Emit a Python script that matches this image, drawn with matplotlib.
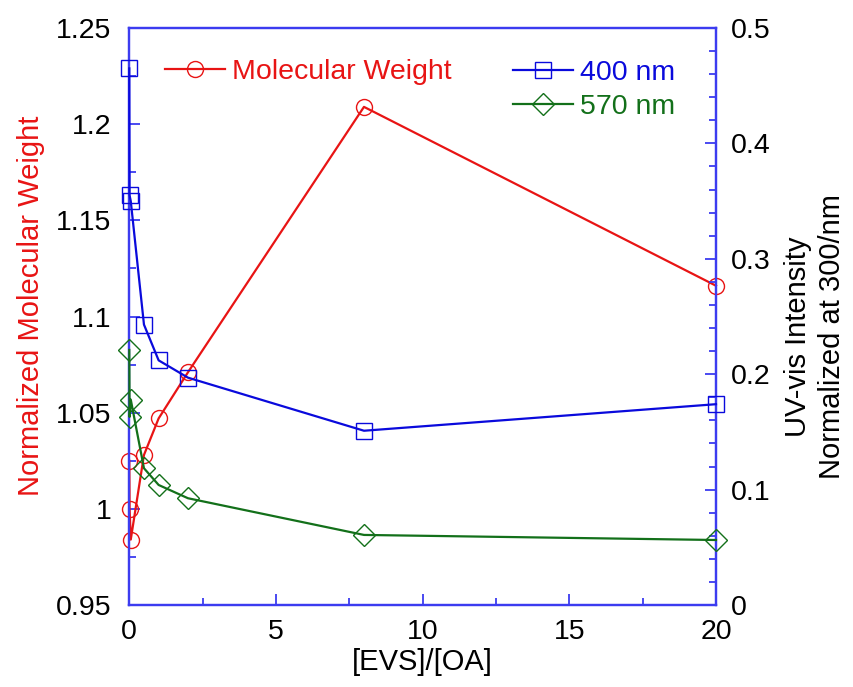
import matplotlib
matplotlib.use('Agg')
import matplotlib.pyplot as plt
from matplotlib.ticker import MultipleLocator
from matplotlib.lines import Line2D

plt.rcParams['font.family'] = ['Liberation Sans', 'DejaVu Sans']

# [EVS]/[OA] ratio and measured values
evs_ratio = [0, 0.01, 0.05, 0.5, 1, 2, 8, 20]
mol_weight = [1.025, 1.0, 0.984, 1.028, 1.047, 1.071, 1.209, 1.116]
abs_400 = [0.465, 0.355, 0.350, 0.243, 0.212, 0.197, 0.151, 0.174]
abs_570 = [0.221, 0.163, 0.178, 0.1185, 0.104, 0.0925, 0.0607, 0.0563]

left_ticks = [0.95, 1.0, 1.05, 1.1, 1.15, 1.2, 1.25]
left_labels = ['0.95', '1', '1.05', '1.1', '1.15', '1.2', '1.25']
right_ticks = [0, 0.1, 0.2, 0.3, 0.4, 0.5]
right_labels = ['0', '0.1', '0.2', '0.3', '0.4', '0.5']

RED = '#e81414'
BLUE = '#0a0adc'
GREEN = '#13701a'
FRAME = '#3c3cf0'
FS = 20.5
LFS = 21

fig = plt.figure(figsize=(8.54, 6.87), dpi=100)
ax1 = fig.add_axes([0.1514, 0.1194, 0.687, 0.8398])
ax2 = ax1.twinx()

ax1.plot(evs_ratio, mol_weight, color=RED, lw=1.6, marker='o', ms=11.5,
         mfc='none', mec=RED, mew=1.0, clip_on=False, zorder=3)
ax2.plot(evs_ratio, abs_400, color=BLUE, lw=1.6, marker='s', ms=12,
         mfc='none', mec=BLUE, mew=1.0, clip_on=False, zorder=3)
ax2.plot(evs_ratio, abs_570, color=GREEN, lw=1.6, marker='D', ms=11.5,
         mfc='none', mec=GREEN, mew=1.0, clip_on=False, zorder=3)

ax1.set_xlim(0, 20)
ax1.xaxis.set_major_locator(MultipleLocator(5))
ax1.xaxis.set_minor_locator(MultipleLocator(2.5))
ax1.set_yticks(left_ticks, left_labels)
ax1.yaxis.set_minor_locator(MultipleLocator(0.025))
ax2.set_yticks(right_ticks, right_labels)
ax2.yaxis.set_minor_locator(MultipleLocator(0.02))
ax1.set_ylim(0.95, 1.25)
ax2.set_ylim(0, 0.5)

for a in (ax1, ax2):
    for s in a.spines.values():
        s.set_color(FRAME)
        s.set_linewidth(1.6)

ax1.tick_params(axis='both', which='both', direction='in', color=FRAME,
                labelsize=FS, top=False, right=False)
ax1.tick_params(axis='y', which='major', length=8, width=1.3, pad=13)
ax1.tick_params(axis='y', which='minor', length=5, width=1.3)
ax1.tick_params(axis='x', which='major', length=8, width=1.3, pad=10)
ax1.tick_params(axis='x', which='minor', length=5, width=1.3)
ax2.tick_params(axis='y', which='both', direction='in', color=FRAME,
                labelsize=FS, left=False)
ax2.tick_params(axis='y', which='major', length=8, width=1.3, pad=11)
ax2.tick_params(axis='y', which='minor', length=5, width=1.3)

fig.text(0.0364, 0.5546, 'Normalized Molecular Weight', color=RED,
         fontsize=LFS, rotation=90, ha='center', va='center')
fig.text(0.9543, 0.5095, 'UV-vis Intensity\nNormalized at 300/nm',
         fontsize=LFS, rotation=90, ha='center', va='center', linespacing=1.25)
fig.text(0.4946, 0.0364, '[EVS]/[OA]', fontsize=LFS, ha='center', va='center')

# legends
h_mw = Line2D([], [], color=RED, lw=1.6, marker='o', ms=11.5, mfc='none', mec=RED)
h_400 = Line2D([], [], color=BLUE, lw=1.6, marker='s', ms=12, mfc='none', mec=BLUE)
h_570 = Line2D([], [], color=GREEN, lw=1.6, marker='D', ms=11.5, mfc='none', mec=GREEN)

fig.legend(handles=[h_mw], labels=['Molecular Weight'], loc='center left',
           bbox_to_anchor=(165 / 854, 1 - 72 / 687), frameon=False,
           fontsize=FS, handlelength=2.1, handletextpad=0.25,
           borderpad=0, borderaxespad=0, labelcolor=[RED])
fig.legend(handles=[h_400, h_570], labels=['400 nm', '570 nm'],
           loc='center left', bbox_to_anchor=(513 / 854, 1 - 90 / 687),
           frameon=False, fontsize=FS, handlelength=2.1,
           handletextpad=0.25, borderpad=0, borderaxespad=0,
           labelspacing=0.3, labelcolor=[BLUE, GREEN])

fig.savefig('out.png', dpi=100)
